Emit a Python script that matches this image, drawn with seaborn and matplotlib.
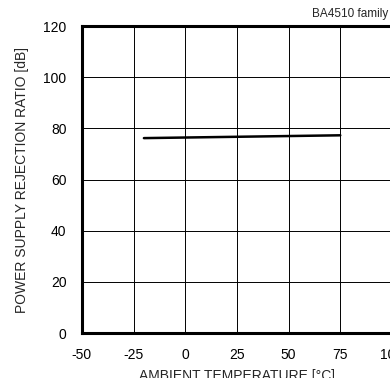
import matplotlib
matplotlib.use("Agg")
import matplotlib.pyplot as plt
import seaborn as sns
import pandas as pd

temperature = [-20, 75]
psrr_db = [76.2, 77.3]

sns.set_theme(style="white")
plt.rcParams["font.family"] = ["Liberation Sans", "DejaVu Sans"]
plt.rcParams["axes.unicode_minus"] = False

df = pd.DataFrame({"temp": temperature, "psrr": psrr_db})

fig = plt.figure(figsize=(3.9, 3.78), dpi=100)
ax = fig.add_axes([0.21, 0.119, 0.795, 0.812])
sns.lineplot(data=df, x="temp", y="psrr", color="black", linewidth=1.8, ax=ax)

ax.set_xlim(-50, 100)
ax.set_ylim(0, 120)
ax.set_xticks([-50, -25, 0, 25, 50, 75, 100])
ax.set_yticks([0, 20, 40, 60, 80, 100, 120])
ax.grid(True, color="black", linewidth=0.7)
for s in ax.spines.values():
    s.set_color("black")
    s.set_linewidth(2.2)
ax.tick_params(axis="both", labelsize=10, colors="black", length=0, pad=11)
ax.set_xlabel("AMBIENT TEMPERATURE [°C]", fontsize=10, labelpad=5)
ax.set_ylabel("POWER SUPPLY REJECTION RATIO [dB]", fontsize=10, labelpad=10)
fig.text(0.995, 0.946, "BA4510 family", ha="right", va="bottom", fontsize=8.5)

fig.savefig("out.png", dpi=100)
